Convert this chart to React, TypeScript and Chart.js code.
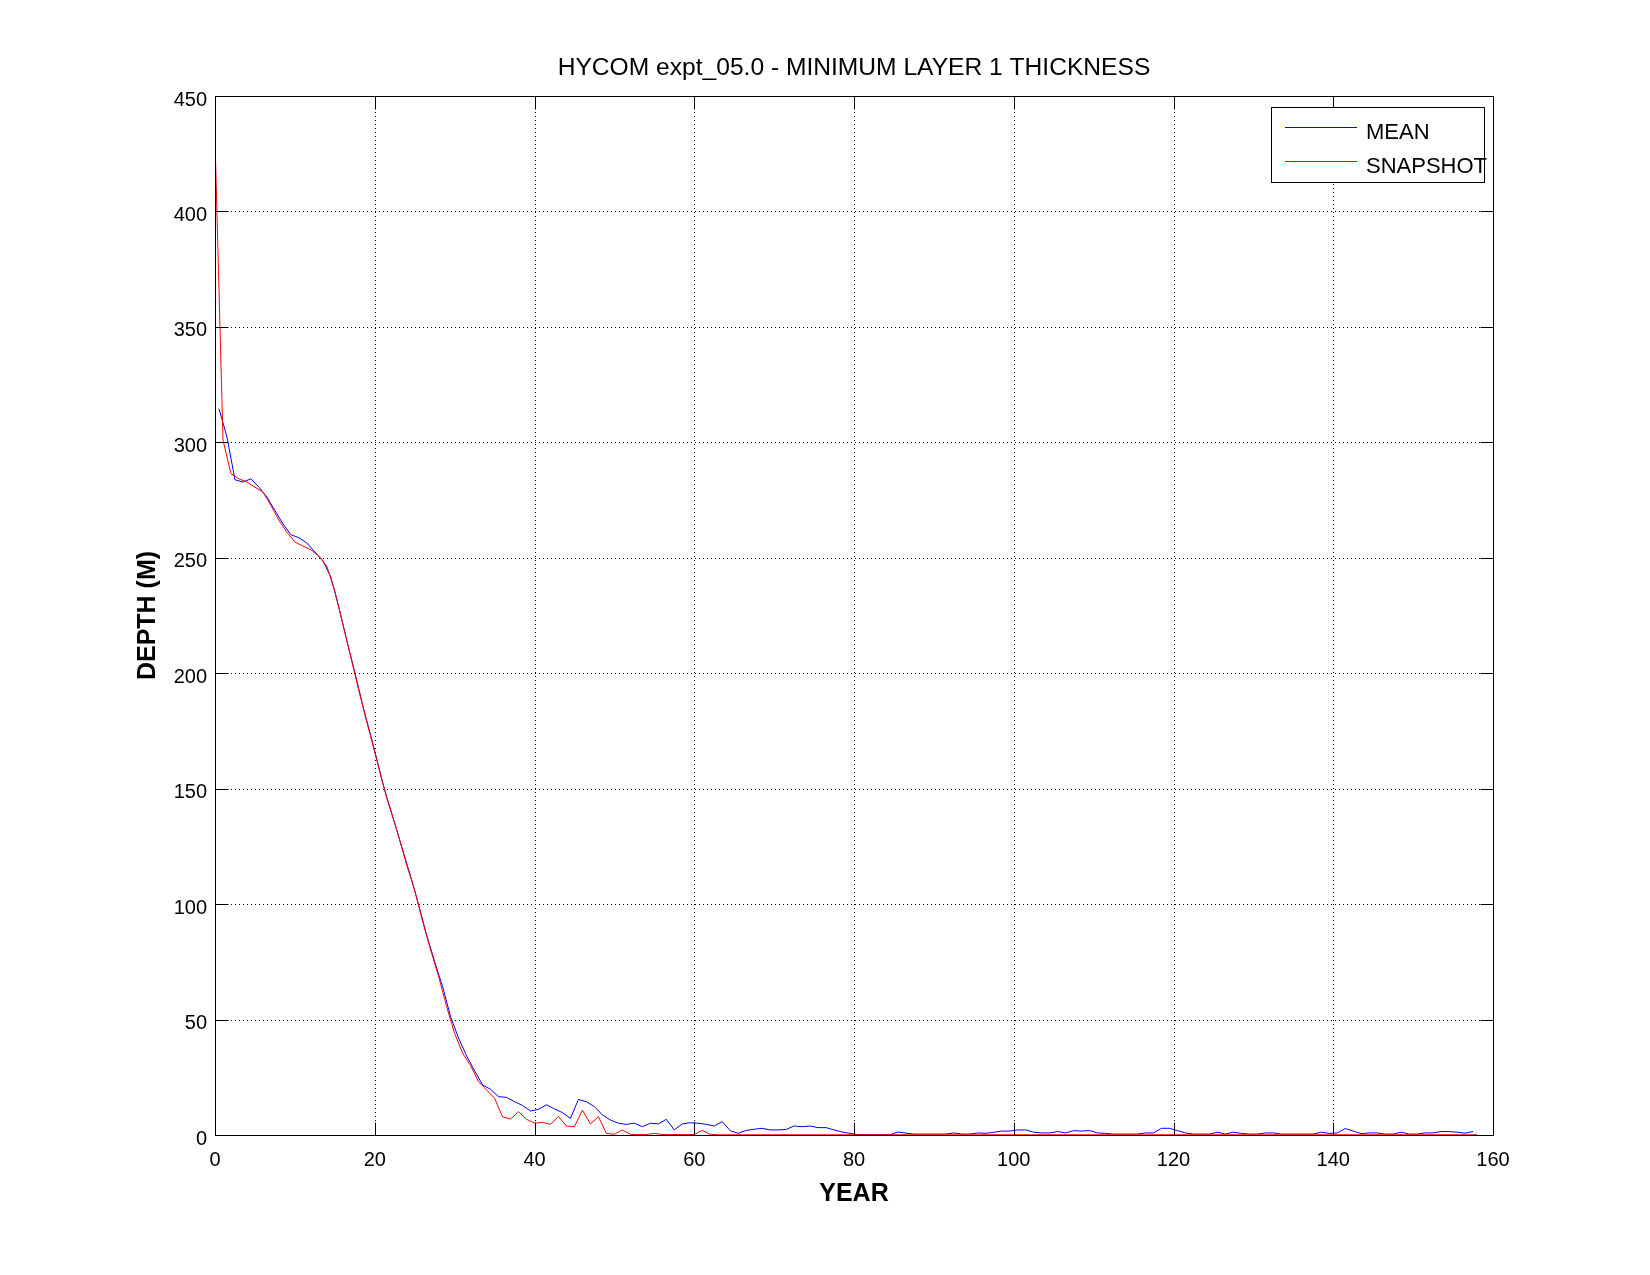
import React, { useEffect, useRef } from "react";
import { Chart, registerables } from "chart.js";

Chart.register(...registerables);

// ---- data ----
const TITLE = "HYCOM expt_05.0 - MINIMUM LAYER 1 THICKNESS";
const X_LABEL = "YEAR";
const Y_LABEL = "DEPTH (M)";
const SERIES_NAMES = ["MEAN", "SNAPSHOT"];

const X_MIN = 0;
const X_MAX = 160;
const X_STEP = 20;
const Y_MIN = 0;
const Y_MAX = 450;
const Y_STEP = 50;

// MEAN: annual means plotted at mid-year (0.5, 1.5, ... 157.5)
const MEAN_FIRST_YEAR = 0.5;
const meanDepth = [
  314.6, 302.3, 283.8, 282.8, 284.2, 280.6, 276.3, 270.5, 264.7, 260,
  258.7, 256.4, 252.5, 248.8, 241.6, 228.6, 214.2, 200.5, 186, 173,
  159.4, 146, 135, 123.4, 111.9, 99.6, 86.6, 75.1, 64.2, 51.2,
  41.9, 34.3, 27.8, 21.7, 19.8, 16.6, 16.3, 14.4, 12.8, 10.4,
  11.1, 13.1, 11.3, 9.7, 7.2, 15.4, 14.4, 12.3, 8.7, 6.5,
  5.1, 4.6, 5.1, 3.6, 5.1, 4.8, 6.8, 2.2, 4.8, 5.3,
  5.1, 4.6, 3.9, 5.8, 1.9, 0.7, 2.0, 2.5, 2.9, 2.2,
  2.2, 2.4, 3.9, 3.6, 3.9, 3.2, 3.2, 2.2, 1.3, 0.7,
  0.1, 0.1, 0.1, 0.1, 0.1, 1.3, 0.8, 0.4, 0.4, 0.4,
  0.4, 0.4, 0.9, 0.4, 0.4, 0.9, 0.7, 1.2, 1.7, 1.7,
  2.2, 2.2, 1.2, 0.9, 0.9, 1.5, 0.9, 1.9, 1.7, 1.9,
  0.9, 0.7, 0.4, 0.4, 0.4, 0.4, 0.9, 0.9, 2.9, 2.9,
  1.9, 0.9, 0.4, 0.4, 0.4, 1.2, 0.4, 1.2, 0.7, 0.4,
  0.4, 0.9, 0.9, 0.4, 0.4, 0.4, 0.4, 0.4, 1.2, 0.7,
  0.9, 2.8, 1.7, 0.6, 0.9, 0.9, 0.4, 0.4, 1.2, 0.4,
  0.4, 0.9, 0.9, 1.5, 1.5, 1.2, 0.8, 1.5,
];

// SNAPSHOT: start-of-year snapshots (0, 1, ... 158)
const SNAPSHOT_FIRST_YEAR = 0;
const snapshotDepth = [
  431, 301, 286.4, 284.2, 282.8, 280.6, 278.5, 272.7, 266.2, 261.1,
  256.8, 255.1, 253.5, 250.6, 246.4, 235.6, 221.4, 207, 192.6, 178.9,
  165.9, 152.2, 140.8, 129.2, 116.9, 106.1, 92.4, 80.1, 68.6, 55.6,
  44, 35.5, 30, 23.1, 19.5, 15.9, 7.9, 6.9, 10.1, 6.8,
  5.1, 5.5, 4.6, 8.1, 3.9, 3.6, 10.8, 4.8, 7.9, 0.7,
  0.3, 2.2, 0.3, 0.2, 0.2, 0.7, 0.2, 0.2, 0.2, 0.2,
  0.2, 2.0, 0.3, 0.1, 0.1, 0.1, 0.1, 0.1, 0.1, 0.1,
  0.1, 0.1, 0.1, 0.1, 0.1, 0.1, 0.1, 0.1, 0.1, 0.1,
  0.1, 0.1, 0.1, 0.1, 0.1, 0.1, 0.1, 0.1, 0.1, 0.1,
  0.1, 0.1, 0.1, 0.1, 0.1, 0.1, 0.1, 0.1, 0.1, 0.1,
  0.1, 0.1, 0.1, 0.1, 0.1, 0.1, 0.1, 0.1, 0.1, 0.1,
  0.1, 0.1, 0.1, 0.1, 0.1, 0.1, 0.1, 0.1, 0.1, 0.1,
  0.1, 0.1, 0.1, 0.1, 0.1, 0.1, 0.1, 0.1, 0.1, 0.1,
  0.1, 0.1, 0.1, 0.1, 0.1, 0.1, 0.1, 0.1, 0.1, 0.1,
  0.1, 0.1, 0.1, 0.1, 0.1, 0.1, 0.1, 0.1, 0.1, 0.1,
  0.1, 0.1, 0.1, 0.1, 0.1, 0.1, 0.1, 0.1, 0.1,
];

const COLORS = ["#0000ff", "#ff0000"];
const FONT = "'Liberation Sans', Arial, Helvetica, sans-serif";

const matlabDecor = {
  id: "matlabDecor",
  beforeDatasetsDraw(chart: any) {
    const { ctx, chartArea: a, scales } = chart;
    const xs = scales.x;
    const ys = scales.y;
    ctx.save();
    ctx.strokeStyle = "#000";
    ctx.lineWidth = 1;
    ctx.setLineDash([1, 3]);
    xs.ticks.forEach((t: any) => {
      const px = Math.round(xs.getPixelForValue(t.value)) + 0.5;
      if (px <= a.left + 1 || px >= a.right - 1) return;
      ctx.beginPath();
      ctx.moveTo(px, a.top);
      ctx.lineTo(px, a.bottom);
      ctx.stroke();
    });
    ys.ticks.forEach((t: any) => {
      const py = Math.round(ys.getPixelForValue(t.value)) + 0.5;
      if (py <= a.top + 1 || py >= a.bottom - 1) return;
      ctx.beginPath();
      ctx.moveTo(a.left, py);
      ctx.lineTo(a.right, py);
      ctx.stroke();
    });
    ctx.restore();
  },
  afterDatasetsDraw(chart: any) {
    const { ctx, chartArea: a, scales } = chart;
    const xs = scales.x;
    const ys = scales.y;
    const L = a.left + 0.5;
    const R = a.right + 0.5;
    const T = a.top + 0.5;
    const B = a.bottom + 0.5;
    const tick = 13;
    ctx.save();
    ctx.setLineDash([]);
    ctx.strokeStyle = "#000";
    ctx.lineWidth = 1;
    // inward ticks on all four sides
    xs.ticks.forEach((t: any) => {
      const px = Math.round(xs.getPixelForValue(t.value)) + 0.5;
      ctx.beginPath();
      ctx.moveTo(px, B);
      ctx.lineTo(px, B - tick);
      ctx.moveTo(px, T);
      ctx.lineTo(px, T + tick);
      ctx.stroke();
    });
    ys.ticks.forEach((t: any) => {
      const py = Math.round(ys.getPixelForValue(t.value)) + 0.5;
      ctx.beginPath();
      ctx.moveTo(L, py);
      ctx.lineTo(L + tick, py);
      ctx.moveTo(R, py);
      ctx.lineTo(R - tick, py);
      ctx.stroke();
    });
    // box
    ctx.strokeRect(L, T, R - L, B - T);

    // legend box
    const lx = 1271.5, ly = 107.5, lw = 213, lh = 75;
    ctx.fillStyle = "#fff";
    ctx.fillRect(lx, ly, lw, lh);
    ctx.strokeRect(lx, ly, lw, lh);
    const rowsY = [127.5, 161.5];
    const baseY = [139, 173];
    ctx.font = `22px ${FONT}`;
    ctx.textAlign = "left";
    ctx.textBaseline = "alphabetic";
    SERIES_NAMES.forEach((name, i) => {
      ctx.strokeStyle = COLORS[i];
      ctx.beginPath();
      ctx.moveTo(1285, rowsY[i]);
      ctx.lineTo(1357, rowsY[i]);
      ctx.stroke();
      ctx.fillStyle = "#000";
      ctx.fillText(name, 1366, baseY[i]);
    });

    // title
    const cx = (a.left + a.right) / 2;
    ctx.fillStyle = "#000";
    ctx.textAlign = "center";
    ctx.font = `24.6px ${FONT}`;
    ctx.fillText(TITLE, cx, 75);
    // x label
    ctx.font = `bold 25px ${FONT}`;
    ctx.fillText(X_LABEL, cx, 1201);
    // y label
    ctx.save();
    ctx.translate(155, (a.top + a.bottom) / 2);
    ctx.rotate(-Math.PI / 2);
    ctx.fillText(Y_LABEL, 0, 0);
    ctx.restore();
    ctx.restore();
  },
};

export default function App() {
  const ref = useRef<HTMLCanvasElement | null>(null);

  useEffect(() => {
    if (!ref.current) return;
    Chart.defaults.font.family = FONT;
    const meanPoints = meanDepth.map((v, i) => ({ x: MEAN_FIRST_YEAR + i, y: v }));
    const snapPoints = snapshotDepth.map((v, i) => ({ x: SNAPSHOT_FIRST_YEAR + i, y: v }));
    const chart = new Chart(ref.current, {
      type: "line",
      data: {
        datasets: [
          {
            label: SERIES_NAMES[0],
            data: meanPoints,
            borderColor: COLORS[0],
            backgroundColor: COLORS[0],
            borderWidth: 1,
            pointRadius: 0,
            tension: 0,
            order: 2,
          },
          {
            label: SERIES_NAMES[1],
            data: snapPoints,
            borderColor: COLORS[1],
            backgroundColor: COLORS[1],
            borderWidth: 1,
            pointRadius: 0,
            tension: 0,
            order: 1,
          },
        ],
      },
      options: {
        animation: false,
        responsive: false,
        devicePixelRatio: 1,
        events: [],
        layout: { padding: { left: 0, right: 157, top: 96, bottom: 80 } },
        plugins: {
          legend: { display: false },
          title: { display: false },
          tooltip: { enabled: false },
        },
        scales: {
          x: {
            type: "linear",
            min: X_MIN,
            max: X_MAX,
            grid: { display: false, drawTicks: false },
            border: { display: false },
            ticks: {
              stepSize: X_STEP,
              color: "#000",
              padding: 13,
              maxRotation: 0,
              font: { size: 20, family: FONT },
            },
            afterFit: (s: any) => {
              s.height = 60;
            },
          },
          y: {
            type: "linear",
            min: Y_MIN,
            max: Y_MAX,
            grid: { display: false, drawTicks: false },
            border: { display: false },
            ticks: {
              stepSize: Y_STEP,
              color: "#000",
              padding: 8,
              labelOffset: 4,
              font: { size: 20, family: FONT },
            },
            afterFit: (s: any) => {
              s.width = 215;
            },
          },
        },
      },
      plugins: [matlabDecor],
    });
    return () => chart.destroy();
  }, []);

  return (
    <div style={{ position: "absolute", left: 0, top: 0, width: 1650, height: 1275, background: "#fff" }}>
      <canvas ref={ref} width={1650} height={1275} style={{ width: 1650, height: 1275 }} />
    </div>
  );
}
